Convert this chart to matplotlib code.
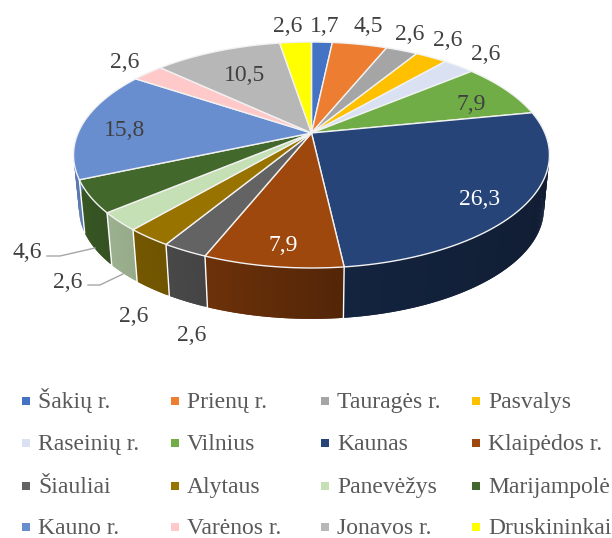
#!/usr/bin/env python3
"""Perspective 3D-style pie of shares by municipality, drawn on a pixel-sized axis."""

import matplotlib
matplotlib.use("Agg")
import matplotlib.pyplot as plt
from matplotlib.colors import to_rgb
import numpy as np

names = ["Šakių r.", "Prienų r.", "Tauragės r.", "Pasvalys",
         "Raseinių r.", "Vilnius", "Kaunas", "Klaipėdos r.",
         "Šiauliai", "Alytaus", "Panevėžys", "Marijampolė",
         "Kauno r.", "Varėnos r.", "Jonavos r.", "Druskininkai"]
values = [1.7, 4.5, 2.6, 2.6, 2.6, 7.9, 26.3, 7.9, 2.6, 2.6, 2.6, 4.6, 15.8, 2.6, 10.5, 2.6]
colors = ["#4472c4", "#ed7d31", "#a5a5a5", "#ffc000", "#d9e1f2", "#70ad47", "#264478", "#9e480e",
          "#636363", "#997300", "#c5e0b4", "#43682b", "#698ed0", "#ffc9c9", "#b7b7b7", "#ffff00"]

# label centres in pixels, same order as values
label_xy = [(325, 24), (368, 24), (410, 32), (448, 38), (486, 52), (471, 102), (480, 197), (283, 243),
            (192, 333), (134, 314), (68, 280), (27, 250), (125, 128), (125, 60), (245, 73), (288, 24)]
white_labels = {"Kaunas", "Klaipėdos r."}

# pie geometry (pixels)
CX, CY = 311.5, 133
A, B, K = 233.4, 108.7, 0.1947   # perspective circle
DROP, SHRINK = 54, 0.977         # bottom rim

TEXT = "#404040"
LEGEND_TEXT = "#595959"
FONT = "Liberation Serif"
STEP = 0.012


def rim(theta, drop=0.0, scale=1.0):
    """Project clockwise-from-top angle(s) onto the pie rim."""
    u, v = np.sin(theta), np.cos(theta)
    d = 1 + K * v
    return CX + scale * A * u / d, CY + drop - scale * B * v / d


def shade(color, theta):
    """Darken wall colour, the wall gets darker towards the right."""
    f = np.interp(np.sin(theta), [-1, -0.4, 0.12, 1], [0.85, 0.7, 0.52, 0.42])
    return tuple(c * f for c in to_rgb(color))


fig = plt.figure(figsize=(6.12, 5.38), dpi=100)
ax = fig.add_axes([0, 0, 1, 1])
ax.set_xlim(0, 612)
ax.set_ylim(538, 0)
ax.axis("off")

edges = np.cumsum([0] + values) / sum(values) * 2 * np.pi

# walls, front half only; strips overlap the next one so no seams show
for i, color in enumerate(colors):
    t0, t1 = max(edges[i], np.pi * 0.42), min(edges[i + 1], np.pi * 1.58)
    if t1 <= t0:
        continue
    for a in np.arange(t0, t1, STEP):
        b = min(a + 2 * STEP, t1)
        xa, ya = rim(a)
        xb, yb = rim(b)
        xc, yc = rim(b, DROP, SHRINK)
        xd, yd = rim(a, DROP, SHRINK)
        ax.fill([xa, xb, xc, xd], [ya, yb, yc, yd], color=shade(color, a), lw=0, zorder=1)

# white joints between wall pieces
for t in edges[:-1]:
    if np.pi * 0.75 < t < np.pi * 1.42:
        x0, y0 = rim(t)
        x1, y1 = rim(t, DROP, SHRINK)
        ax.plot([x0, x1], [y0, y1], color="white", lw=1.0, zorder=2)

# top face
for i, color in enumerate(colors):
    ts = np.linspace(edges[i], edges[i + 1], 60)
    xs, ys = rim(ts)
    ax.fill(np.r_[CX, xs], np.r_[CY, ys], facecolor=color, edgecolor="#f2f2f2", lw=1.0,
            joinstyle="round", zorder=3)

# leader lines
ax.plot([47, 60, 95], [256, 256, 248], color="#a6a6a6", lw=1.0, zorder=4)
ax.plot([88, 100, 125], [285, 285, 273], color="#a6a6a6", lw=1.0, zorder=4)

# data labels
for name, val, (x, y) in zip(names, values, label_xy):
    ax.text(x, y, f"{val:.1f}".replace(".", ","), ha="center", va="center_baseline", family=FONT,
            fontsize=17, color="white" if name in white_labels else TEXT, zorder=5)

# legend
col_x = [26, 175, 325, 476]
row_y = [401, 443, 486, 527]
for i, (name, color) in enumerate(zip(names, colors)):
    x, y = col_x[i % 4], row_y[i // 4]
    ax.scatter([x], [y], marker="s", s=26, color=color, linewidths=0, zorder=5)
    ax.text(x + 12, y + 7, name, ha="left", va="baseline", family=FONT, fontsize=17,
            color=LEGEND_TEXT, zorder=5)

fig.savefig("out.png", dpi=100)
plt.close()
